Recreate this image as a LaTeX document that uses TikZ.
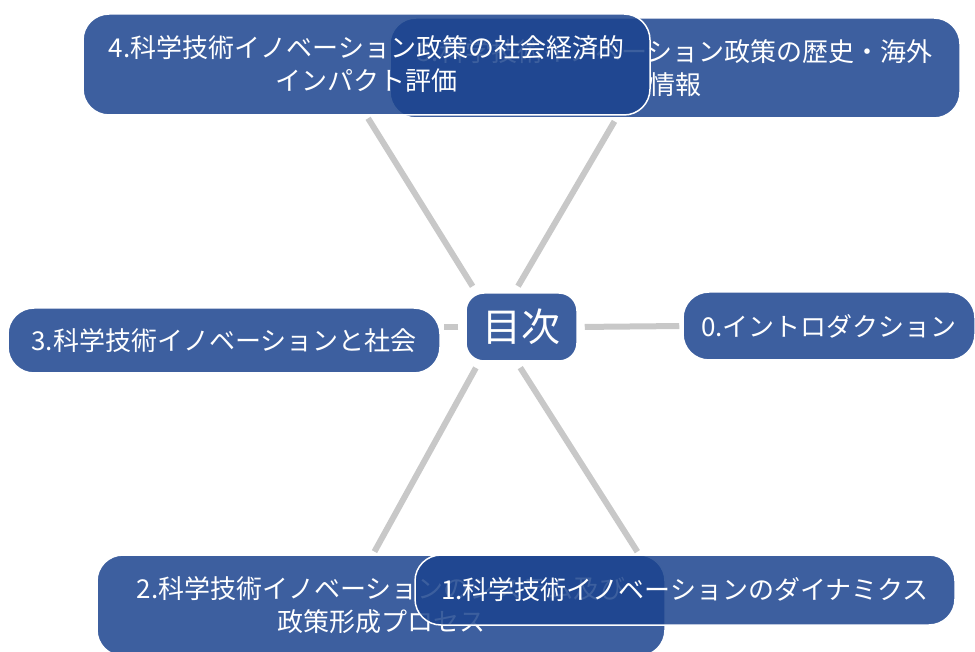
\documentclass[tikz,border=0pt]{standalone}
\usepackage{fontspec}
\setmainfont{Noto Sans CJK JP}
\usetikzlibrary{backgrounds}
\definecolor{boxblue}{HTML}{1B438E}
\definecolor{spokegray}{HTML}{C8C8C8}
\tikzset{
  topic/.style={draw=white, line width=1.5pt, fill=boxblue, fill opacity=0.85, draw opacity=1, text opacity=1,
    text=white, rounded corners=26pt, align=center, inner sep=0pt, font=\fontsize{26}{33}\selectfont},
  centre/.style={topic, rounded corners=18pt, font=\fontsize{39}{42}\selectfont},
  spoke/.style={draw=spokegray, line width=6pt, shorten <=7pt, shorten >=3pt}
}
\begin{document}
\begin{tikzpicture}[x=1pt,y=-1pt]
      \useasboundingbox (0,0) rectangle (975,652);
      \node[topic, minimum width=432, minimum height=65] (b3) at (224,340.5) {3.科学技術イノベーションと社会};
      \node[topic, minimum width=292, minimum height=68] (b0) at (829,326) {0.イントロダクション};
      \node[centre, minimum width=111, minimum height=68] (hub) at (521.5,327) {目次};
      \node[topic, minimum width=570, minimum height=100] (b5) at (675,68) {5.科学技術イノベーション政策の歴史・海外\\情報};
      \node[topic, minimum width=567, minimum height=101] (b4) at (366.5,64.5) {4.科学技術イノベーション政策の社会経済的\\インパクト評価};
      \node[topic, minimum width=568, minimum height=101] (b2) at (381,605.5) {2.科学技術イノベーションのシステム及び\\政策形成プロセス};
      \node[topic, minimum width=540, minimum height=70] (b1) at (685,590) {1.科学技術イノベーションのダイナミクス};
      \begin{scope}[on background layer]
      \draw[spoke] (hub.east) -- (b0.west);
      \draw[spoke] (hub.west) -- (b3.east |- hub.west);
      \draw[spoke] ([xshift=11pt]hub.north west) -- (b4.south);
      \draw[spoke] ([xshift=-7pt]hub.north) -- ([xshift=-59pt]b5.south);
      \draw[spoke] ([xshift=14pt]hub.south west) -- ([xshift=-8pt]b2.north);
      \draw[spoke] ([xshift=-5pt]hub.south) -- ([xshift=-46pt]b1.north);
      \end{scope}
\end{tikzpicture}
\end{document}
